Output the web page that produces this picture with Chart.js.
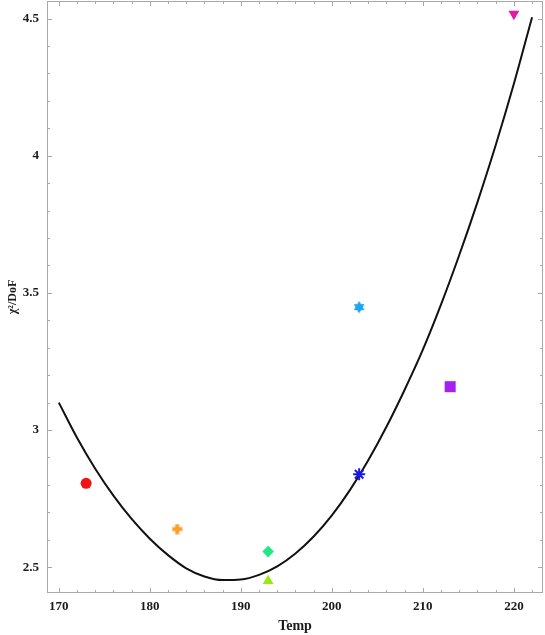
<!DOCTYPE html>
<html>
<head>
<meta charset="utf-8">
<title>chi2 / DoF vs Temp</title>
<script src="https://cdn.jsdelivr.net/npm/chart.js@4.4.1/dist/chart.umd.min.js"></script>
<style>
  html, body { margin: 0; padding: 0; background: #fff; }
  #grafico { display: block; }
</style>
</head>
<body>
<canvas id="grafico" width="545" height="635"></canvas>
<script>
// fitted curve, every 2 degrees
const fitTemp = [170, 172, 174, 176, 178, 180, 182, 184, 186, 188, 190, 192, 194, 196,
  198, 200, 202, 204, 206, 208, 210, 212, 214, 216, 218, 220, 222];
const fitChi = [3.100, 2.972, 2.859, 2.761, 2.676, 2.604, 2.544, 2.496, 2.466, 2.453, 2.455,
  2.472, 2.503, 2.550, 2.612, 2.689, 2.782, 2.890, 3.012, 3.147, 3.293, 3.458, 3.638, 3.831,
  4.038, 4.262, 4.505];

// measured points
const pointTemp = [173, 183, 193, 193, 203, 203, 213, 220];
const pointChi = [2.806, 2.639, 2.557, 2.450, 2.839, 3.448, 3.158, 4.517];

// tick labels
const xTicks = [170, 180, 190, 200, 210, 220];
const yTicks = [2.5, 3, 3.5, 4, 4.5];

const serif = "'Liberation Serif', 'Times New Roman', serif";

// small canvases for the shapes Chart.js does not have
function hacerPlus(color) {
  const c = document.createElement("canvas");
  c.width = 11; c.height = 11;
  const g = c.getContext("2d");
  g.fillStyle = color;
  g.fillRect(3.5, 0.5, 4, 10);
  g.fillRect(0.5, 3.5, 10, 4);
  return c;
}

function hacerEstrella6(color) {
  const c = document.createElement("canvas");
  c.width = 14; c.height = 14;
  const g = c.getContext("2d");
  g.fillStyle = color;
  const r = 6.2;
  for (const giro of [0, Math.PI]) {
    g.beginPath();
    for (let i = 0; i < 3; i++) {
      const a = giro - Math.PI / 2 + i * 2 * Math.PI / 3;
      const px = 7 + r * Math.cos(a);
      const py = 7 + r * Math.sin(a);
      if (i === 0) g.moveTo(px, py); else g.lineTo(px, py);
    }
    g.closePath();
    g.fill();
  }
  return c;
}

const colores = ["#f01414", "#f7a02a", "#22e884", "#9ce814", "#1818e0", "#1ea4f0", "#a422f0", "#e41aa4"];
const estilos = ["circle", hacerPlus("#f7a02a"), "rectRot", "triangle", "star",
  hacerEstrella6("#1ea4f0"), "rect", "triangle"];
const radios = [5.5, 5.5, 5.8, 6.3, 6, 7, 7.8, 6.3];
const rotaciones = [0, 0, 0, 0, 0, 0, 0, 180];

// frame with inward ticks on all four sides
const marco = {
  id: "marco",
  beforeDatasetsDraw(chart) {
    const { ctx, chartArea: a, scales: { x, y } } = chart;
    ctx.save();
    ctx.strokeStyle = "#a8a8a8";
    ctx.lineWidth = 1;
    ctx.strokeRect(a.left + 0.5, a.top + 0.5, a.right - a.left - 1, a.bottom - a.top - 1);
    ctx.beginPath();
    for (let t = 170; t <= x.max; t += 2) {
      const px = Math.round(x.getPixelForValue(t)) + 0.5;
      const len = t % 10 === 0 ? 5 : 3;
      ctx.moveTo(px, a.bottom); ctx.lineTo(px, a.bottom - len);
      ctx.moveTo(px, a.top); ctx.lineTo(px, a.top + len);
    }
    for (let k = 25; k <= 45; k++) {
      const py = Math.round(y.getPixelForValue(k / 10)) + 0.5;
      const len = k % 5 === 0 ? 5 : 3;
      ctx.moveTo(a.left, py); ctx.lineTo(a.left + len, py);
      ctx.moveTo(a.right, py); ctx.lineTo(a.right - len, py);
    }
    ctx.stroke();
    ctx.restore();
  }
};

new Chart(document.getElementById("grafico").getContext("2d"), {
  type: "scatter",
  data: {
    datasets: [
      {
        label: "puntos",
        data: pointTemp.map((t, i) => ({ x: t, y: pointChi[i] })),
        pointStyle: estilos,
        pointRadius: radios,
        pointRotation: rotaciones,
        backgroundColor: colores,
        borderColor: colores,
        borderWidth: [0, 0, 0, 0, 2, 0, 0, 0],
        order: 1
      },
      {
        label: "ajuste",
        type: "line",
        data: fitTemp.map((t, i) => ({ x: t, y: fitChi[i] })),
        borderColor: "#111",
        borderWidth: 2,
        pointRadius: 0,
        cubicInterpolationMode: "monotone",
        fill: false,
        order: 2
      }
    ]
  },
  options: {
    responsive: false,
    animation: false,
    events: [],
    layout: { autoPadding: false, padding: { top: 1, right: 2, left: 0, bottom: 0 } },
    plugins: {
      legend: { display: false },
      tooltip: { enabled: false }
    },
    scales: {
      x: {
        type: "linear",
        min: 168.7,
        max: 223.2,
        grid: { display: false, drawTicks: false },
        border: { display: false },
        afterBuildTicks: (s) => { s.ticks = xTicks.map(v => ({ value: v })); },
        afterFit: (s) => { s.height = 42; s.paddingLeft = 0; s.paddingRight = 0; },
        ticks: {
          padding: 6,
          color: "#1a1a1a",
          font: { family: serif, size: 13, weight: "bold" }
        },
        title: {
          display: true,
          text: "Temp",
          color: "#1a1a1a",
          padding: { top: 0, bottom: 0 },
          font: { family: serif, size: 14, weight: "bold" }
        }
      },
      y: {
        type: "linear",
        min: 2.406,
        max: 4.564,
        grid: { display: false, drawTicks: false },
        border: { display: false },
        afterBuildTicks: (s) => { s.ticks = yTicks.map(v => ({ value: v })); },
        afterFit: (s) => { s.width = 47; s.paddingTop = 0; s.paddingBottom = 0; },
        ticks: {
          padding: 8,
          color: "#1a1a1a",
          callback: (v) => String(v),
          font: { family: serif, size: 13, weight: "bold" }
        },
        title: {
          display: true,
          text: "χ²/DoF",
          color: "#1a1a1a",
          padding: { top: 6, bottom: 0 },
          font: { family: serif, size: 12, weight: "bold" }
        }
      }
    }
  },
  plugins: [marco]
});
</script>
</body>
</html>
